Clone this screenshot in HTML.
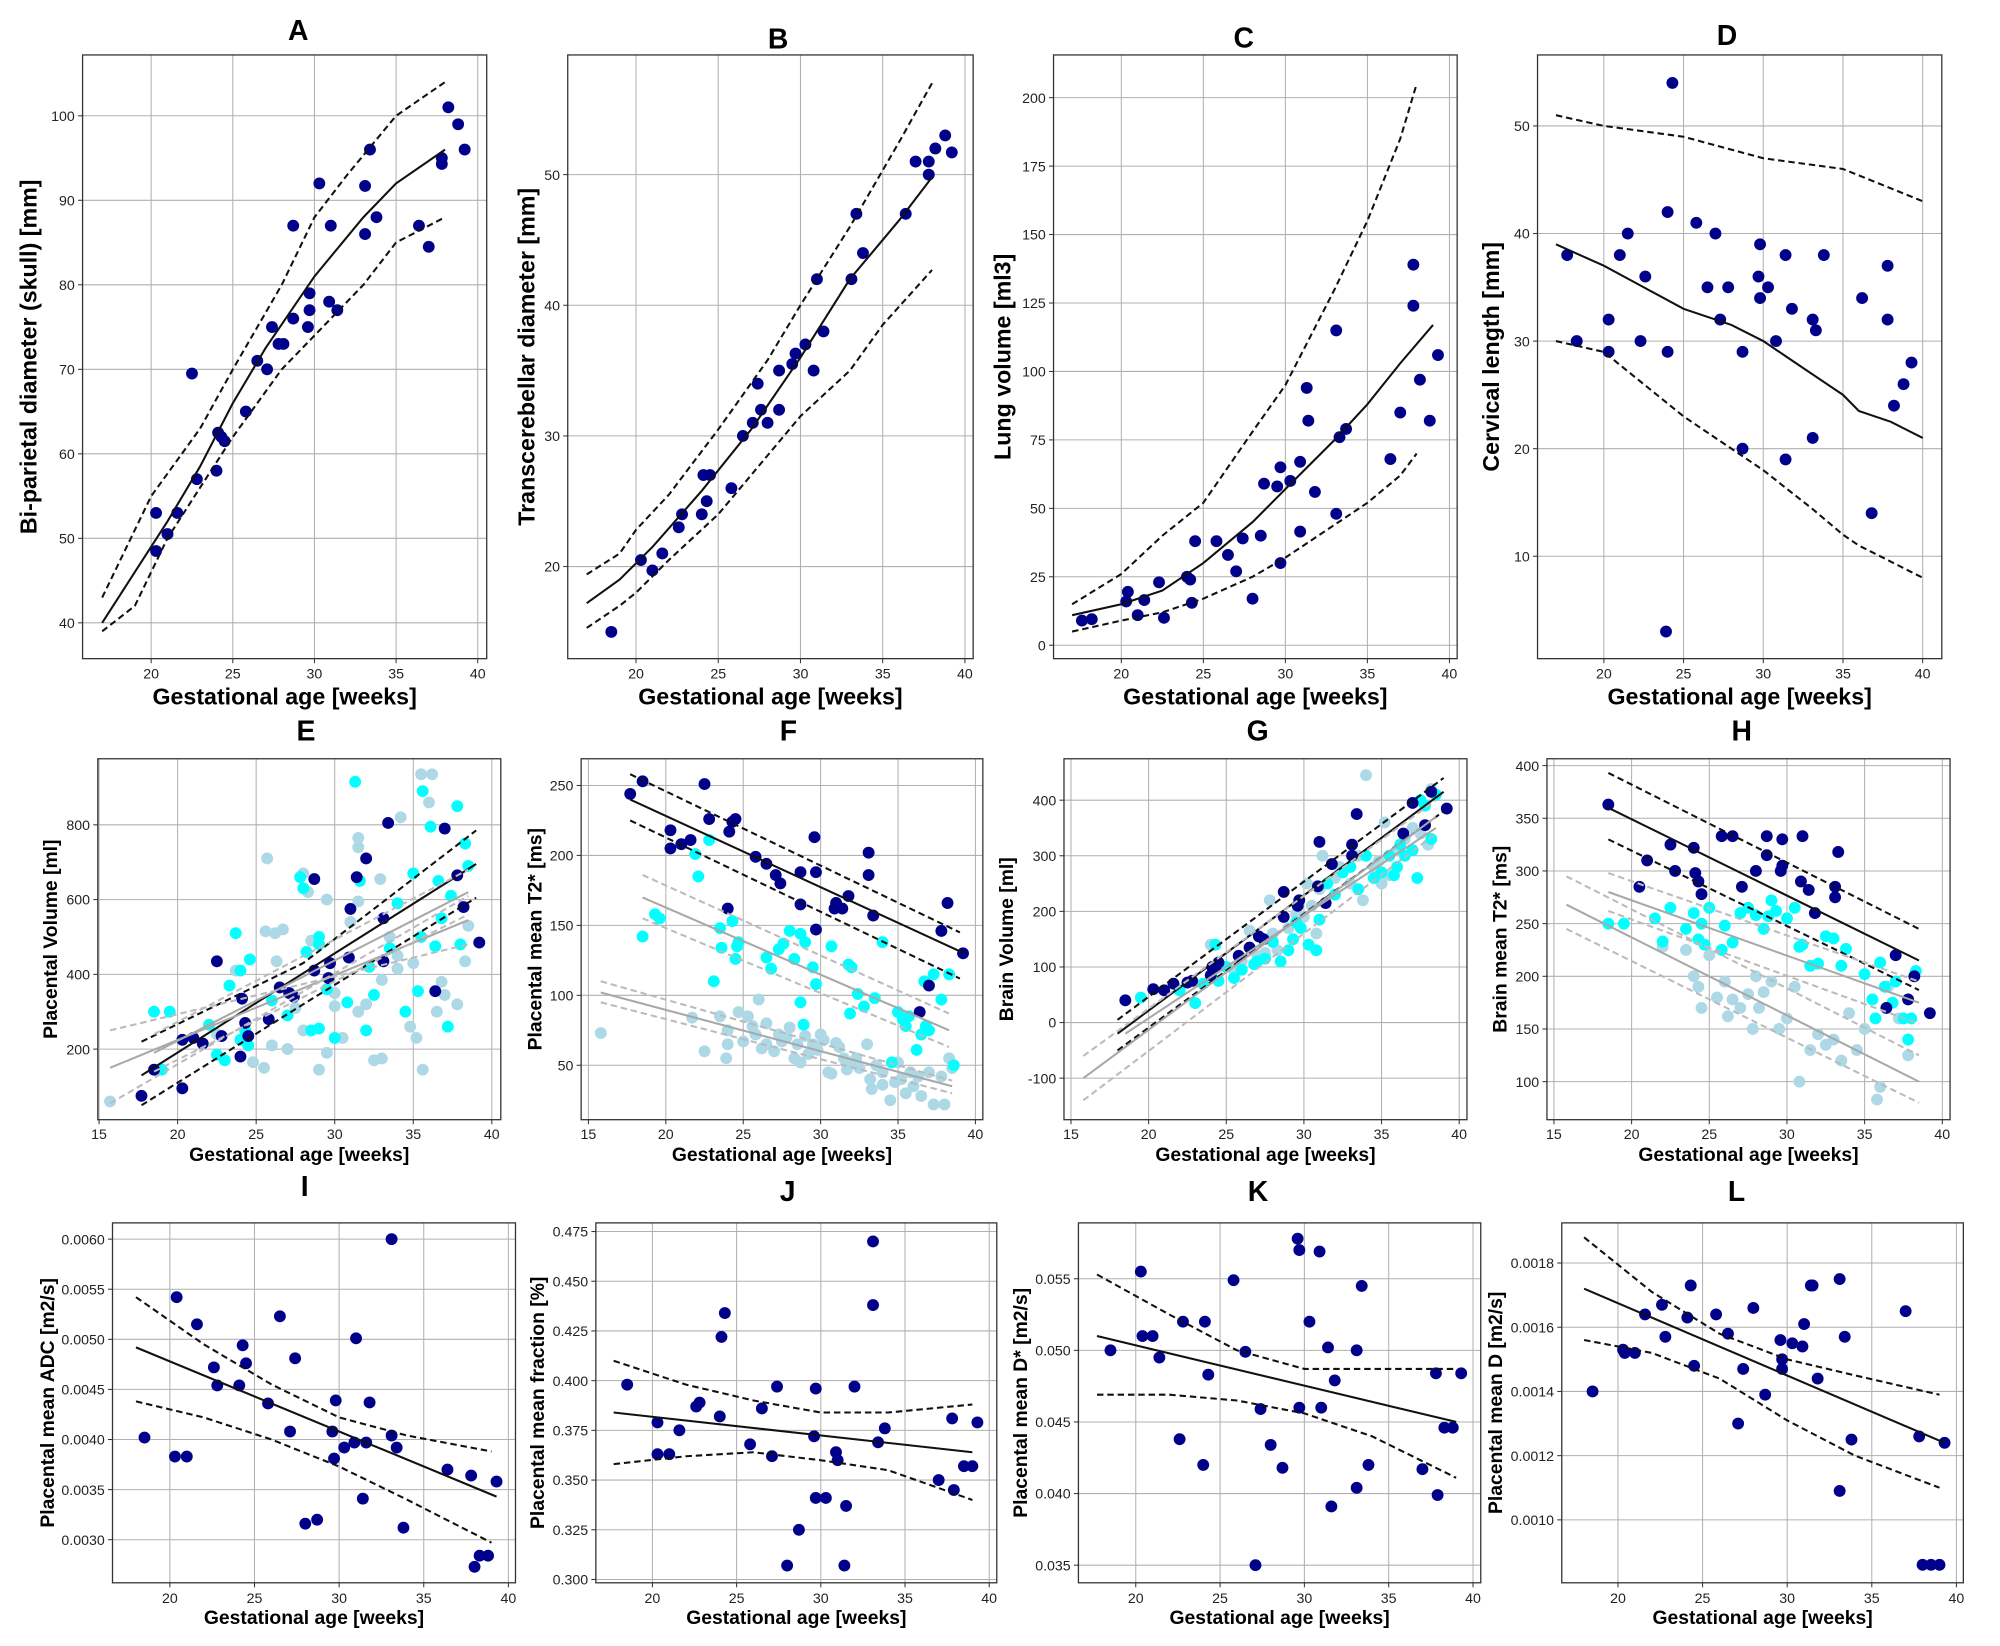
<!DOCTYPE html>
<html><head><meta charset="utf-8"><style>
html,body{margin:0;padding:0;background:#fff}
svg{display:block}
text{font-family:"Liberation Sans",sans-serif}
</style></head><body>
<svg id="fig" width="2000" height="1646" viewBox="0 0 1550 1276" xmlns="http://www.w3.org/2000/svg"></svg>
<script>
// ---------- DATA ----------
const aPoints=[[20.3,53],[20.3,48.5],[21,50.5],[21.6,53],[22.5,69.5],[22.8,57],[24,58],[24.1,62.5],[24.3,62],[24.5,61.5],[25.8,65],[26.5,71],[27.1,70],[27.4,75],[27.8,73],[28.1,73],[28.7,76],[28.7,87],[29.6,75],[29.7,77],[29.7,79],[30.3,92],[30.9,78],[31,87],[31.4,77],[33.1,86],[33.1,91.7],[33.4,96],[33.8,88],[36.4,87],[37,84.5],[37.8,95],[37.8,94.3],[38.2,101],[38.8,99],[39.2,96]];
const aMean=[[17,40],[19,46],[21,52],[23,58.5],[25,66],[27,72.5],[30,81],[33,88],[35,92],[38,96]];
const aUpper=[[17,43],[20,55],[23,63],[25,70],[28,80],[30,88],[32,93],[35,100],[38,104]];
const aLower=[[17,39],[19,42],[21,50],[23,56],[25,62],[28,70],[30,74],[33,80],[35,85],[38,88]];

const bPoints=[[18.5,15],[20.3,20.5],[21,19.7],[21.6,21],[22.6,23],[22.8,24],[24,24],[24.1,27],[24.3,25],[24.5,27],[25.8,26],[26.5,30],[27.1,31],[27.4,34],[27.6,32],[28,31],[28.7,35],[28.7,32],[29.5,35.5],[29.7,36.3],[30.3,37],[30.8,35],[31,42],[31.4,38],[33.1,42],[33.4,47],[33.8,44],[36.4,47],[37,51],[37.8,51],[37.8,50],[38.2,52],[38.8,53],[39.2,51.7]];
const bMean=[[17,17.2],[19,19],[21,21.5],[24,25.8],[27,30.5],[30,36],[33,42],[36,46.5],[38,49.8]];
const bUpper=[[17,19.4],[19,21],[20,22.8],[22,25.5],[25,30.5],[28,35.8],[30,40],[33,46],[36,52.5],[38,57]];
const bLower=[[17,15.3],[19,17],[20,18],[22,20.5],[25,24],[28,28.5],[30,31.5],[33,35],[35,38.5],[38,42.7]];

const cPoints=[[17.6,9],[18.2,9.5],[20.3,16],[20.4,19.5],[21,11],[21.4,16.5],[22.3,23],[22.6,10],[24,25],[24.2,24],[24.3,15.5],[24.5,38],[25.8,38],[26.5,33],[27,27],[27.4,39],[28,17],[28.5,40],[28.7,59],[29.5,58],[29.7,65],[29.7,30],[30.3,60],[30.9,67],[30.9,41.5],[31.3,94],[31.4,82],[31.8,56],[33.1,115],[33.1,48],[33.3,76],[33.7,79],[36.4,68],[37,85],[37.8,139],[37.8,124],[38.2,97],[38.8,82],[39.3,106]];
const cMean=[[17,11],[20,15],[22.5,20],[25,30],[28,45],[30,57],[33,75],[35,88],[37,103],[39,117]];
const cUpper=[[17,15],[20,26],[22.5,40],[25,52],[28,78],[30,95],[33,130],[35,155],[37,185],[38,205]];
const cLower=[[17,5],[20,9],[22.5,12],[25,17],[28,25],[30,32],[33,44],[35,52],[37,62],[38,70]];

const dPoints=[[17.7,38],[18.3,30],[20.3,32],[20.3,29],[21,38],[21.5,40],[22.3,30],[22.6,36],[24,29],[24,42],[24.3,54],[23.9,3],[25.8,41],[26.5,35],[27,40],[27.3,32],[27.8,35],[28.7,29],[28.7,20],[29.7,36],[29.8,39],[29.8,34],[30.3,35],[30.8,30],[31.4,38],[31.4,19],[31.8,33],[33.1,32],[33.1,21],[33.3,31],[33.8,38],[36.2,34],[36.8,14],[37.8,37],[37.8,32],[38.2,24],[38.8,26],[39.3,28]];
const dMean=[[17,39],[20,37],[22.5,35],[25,33],[28,31.5],[30,30],[32,28],[35,25],[36,23.5],[38,22.5],[40,21]];
const dUpper=[[17,51],[20,50],[25,49],[30,47],[35,46],[40,43]];
const dLower=[[17,30],[20,29],[22.5,26],[25,23],[28,20],[30,18],[33,14.5],[35,12],[36,11],[38,9.5],[40,8]];

const eNavy=[[17.7,75],[18.5,145],[20.3,95],[20.3,225],[21,230],[21.6,215],[22.5,435],[22.8,235],[24,180],[24.1,335],[24.3,270],[24.5,235],[25.8,280],[26.5,365],[27.1,350],[27.4,340],[28.7,410],[28.7,655],[29.6,390],[29.7,430],[30.9,445],[31,575],[31.4,660],[32,710],[33.1,435],[33.1,550],[33.4,805],[36.4,355],[37,790],[37.8,665],[38.2,580],[39.2,485]];
const eCyan=[[18.5,300],[19,145],[19.5,300],[22,265],[22.5,185],[23,170],[23.3,370],[23.7,510],[24,225],[24.3,250],[24.5,210],[24.6,440],[26,330],[27,290],[27.8,660],[28,630],[28.5,250],[29,255],[29,480],[29.5,360],[30,230],[30.8,325],[31.3,915],[31.6,650],[32,250],[32.2,420],[32.5,345],[33.5,470],[34,590],[34.5,300],[35,670],[35.3,355],[35.5,500],[35.6,890],[36.1,795],[36.4,475],[36.8,550],[37.2,260],[37.4,610],[37.8,850],[38,480],[38.3,750],[38.5,690],[36.6,650],[29,500],[28.2,460],[24,410]];
const eLight=[[15.7,60],[23.7,410],[25.6,515],[25.7,710],[26.2,510],[26.3,435],[26.7,520],[27.5,310],[28,670],[28.3,620],[28.5,490],[29,145],[29.5,600],[30,315],[30.5,230],[31,540],[31.5,765],[31.5,740],[31.5,595],[32.5,170],[32.9,655],[33,175],[33,385],[34,415],[34.2,820],[35,430],[35.2,230],[35.5,935],[35.6,145],[36,860],[36.2,935],[36.5,300],[36.8,380],[37,345],[37.8,320],[38.3,435],[38.5,530],[27,200],[25.5,150],[26,210],[24.8,165],[30,350],[32,320],[34,450],[33.5,500],[29.5,190],[28,250],[31.5,300],[22.5,240],[34.8,260]];
const eFits=[
 {c:"#111",d:0,p:[[17.7,130],[39,695]]},{c:"#111",d:1,p:[[17.7,220],[28,430],[39,785]]},{c:"#111",d:1,p:[[17.7,50],[28,320],[39,605]]},
 {c:"#a8a8a8",d:0,p:[[15.7,150],[38.5,545]]},{c:"#a8a8a8",d:0,p:[[18.5,190],[38.5,620]]},
 {c:"#bbb",d:1,p:[[15.7,250],[38.5,480]]},{c:"#bbb",d:1,p:[[15.7,55],[38.5,610]]},
 {c:"#bbb",d:1,p:[[18.5,240],[38.5,680]]},{c:"#bbb",d:1,p:[[18.5,140],[38.5,560]]}];

const fNavy=[[17.7,244],[18.5,253],[20.3,218],[20.3,205],[21,208],[21.6,211],[22.5,251],[22.8,226],[24,162],[24.1,217],[24.3,224],[24.5,226],[25.8,199],[26.5,194],[27.1,186],[27.4,180],[28.7,188],[28.7,165],[29.6,213],[29.7,188],[29.7,147],[30.9,162],[31,166],[31.4,162],[31.8,171],[33.1,186],[33.1,202],[33.4,157],[36.4,88],[37,107],[37.8,146],[38.2,166],[39.2,130]];
const fCyan=[[18.5,142],[19.3,158],[19.6,155],[21.9,201],[22.1,185],[22.8,211],[23.1,110],[23.5,148],[23.6,134],[24.3,153],[24.5,126],[24.6,135],[24.7,138],[26.5,127],[26.8,119],[27.3,133],[27.6,137],[28,146],[28.3,126],[28.7,95],[28.7,144],[28.9,79],[29,138],[29.5,120],[29.7,108],[30.7,135],[31.8,122],[32,120],[32.4,101],[31.9,87],[32.8,92],[33.5,98],[34,138],[34.6,52],[35,88],[35.5,78],[35.7,85],[36.2,61],[36.5,72],[36.7,110],[37,75],[37.3,115],[37.8,97],[38.3,115],[38.6,50],[35.3,83],[36.8,78]];
const fLight=[[15.8,73],[21.7,84],[22.5,60],[23.9,55],[23.5,85],[24,75],[24,65],[24.7,88],[25,67],[25.3,85],[25.6,78],[25.8,72],[26,97],[26.2,62],[26.5,80],[26.5,65],[27,60],[27.3,72],[27.5,67],[27.8,70],[28,77],[28.3,55],[28.5,65],[28.7,52],[29,71],[29.2,58],[29.5,65],[29.8,61],[30,72],[30.2,68],[30.5,45],[30.7,44],[31,66],[31.2,63],[31.5,55],[31.7,47],[32,52],[32.3,55],[32.5,48],[33,65],[33.2,40],[33.3,33],[33.6,50],[34,45],[34,36],[34.5,25],[34.8,38],[35,52],[35.2,40],[35.5,30],[35.8,45],[36,35],[36.3,42],[36.5,28],[37,45],[37.3,22],[37.8,42],[38,22],[38.3,55],[38.5,48]];
const fFits=[
 {c:"#111",d:0,p:[[17.7,240],[39.3,130]]},{c:"#111",d:1,p:[[17.7,258],[39,145]]},{c:"#111",d:1,p:[[17.7,225],[39,112]]},
 {c:"#a8a8a8",d:0,p:[[18.5,170],[38.3,75]]},{c:"#bbb",d:1,p:[[18.5,186],[38.3,87]]},{c:"#bbb",d:1,p:[[18.5,155],[38.3,63]]},
 {c:"#a8a8a8",d:0,p:[[15.8,102],[38.5,35]]},{c:"#bbb",d:1,p:[[15.8,110],[38.5,39]]},{c:"#bbb",d:1,p:[[15.8,95],[38.5,30]]}];

const gNavy=[[18.5,40],[20.3,60],[21,58],[21.6,70],[22.5,72],[22.8,75],[24,85],[24.1,100],[24.3,98],[24.5,108],[25.8,120],[26.5,135],[27.1,155],[27.4,150],[28.7,190],[28.7,235],[29.6,210],[29.7,220],[30.9,245],[31,325],[31.4,215],[31.8,285],[33.1,300],[33.1,320],[33.4,375],[36.4,340],[37,395],[37.8,355],[38.2,415],[39.2,385]];
const gCyan=[[19.5,45],[22,58],[23,35],[23.5,70],[24.3,140],[24.5,75],[25,100],[25.5,80],[26,95],[26.8,105],[27.5,115],[28,145],[28.5,110],[29,130],[29.3,150],[29.8,170],[30.3,140],[30.8,130],[31,185],[31.5,250],[32,230],[32.5,270],[33,280],[33.5,240],[34,300],[34.5,260],[35,270],[35.5,300],[36,280],[36.5,300],[37,310],[37.5,400],[37.8,390],[38.2,330],[38.5,410],[37.3,260],[35.8,265],[36.2,320],[29.5,180],[27,110]];
const gLight=[[24,140],[25.5,95],[26,110],[27,120],[27.5,125],[28,160],[28.3,130],[29,170],[29.5,195],[30,190],[30.2,250],[30.5,210],[31,240],[31.2,300],[32,260],[32.3,280],[33,250],[33.5,300],[33.8,220],[34,445],[34.5,280],[35,250],[35.5,265],[36,310],[36.5,330],[37,350],[37.5,340],[38,320],[38.2,420],[27.8,220],[26.5,165],[30.8,160],[34.8,290],[35.2,360]];
const gFits=[
 {c:"#111",d:0,p:[[18,-20],[39,415]]},{c:"#111",d:1,p:[[18,5],[39,440]]},{c:"#111",d:1,p:[[18,-50],[39,380]]},
 {c:"#a8a8a8",d:0,p:[[15.8,-100],[38.5,370]]},{c:"#a8a8a8",d:0,p:[[18.5,-20],[38.5,350]]},
 {c:"#bbb",d:1,p:[[15.8,-60],[38.5,400]]},{c:"#bbb",d:1,p:[[15.8,-140],[38.5,340]]}];

const hNavy=[[18.5,363],[20.5,285],[21,310],[22.5,325],[22.8,300],[24,322],[24.1,298],[24.3,290],[24.5,278],[25.8,333],[26.5,333],[27.1,285],[28,300],[28.7,315],[28.7,333],[29.6,300],[29.7,305],[29.7,330],[30.9,290],[31,333],[31.4,282],[31.8,260],[33.1,275],[33.1,285],[33.3,318],[36.4,170],[37,220],[37.8,178],[38.2,200],[39.2,165]];
const hCyan=[[18.5,250],[19.5,250],[21.5,255],[22,233],[22.5,265],[23.5,245],[24,260],[24.3,235],[24.5,250],[24.7,230],[25,265],[25.8,225],[26,248],[26.5,232],[27,260],[27.5,265],[28,258],[28.5,245],[28.8,257],[29,272],[29.3,262],[30,255],[30.5,265],[30.8,228],[31,230],[31.5,210],[32,212],[32.5,238],[33,236],[33.5,210],[33.8,226],[35,202],[35.5,178],[36,213],[36.3,190],[36.8,175],[37,195],[37.5,160],[37.8,140],[38,160],[38.3,205],[35.7,160]];
const hLight=[[22,228],[23.5,225],[24,200],[24.3,190],[24.5,170],[25,220],[25.5,180],[26,195],[26.5,178],[27,170],[27.5,183],[27.8,150],[28,200],[28.5,185],[29,195],[29.5,150],[30,160],[30.5,190],[30.8,100],[31.5,130],[32,145],[32.5,135],[33,140],[33.5,120],[34,165],[35,150],[35.8,83],[36,95],[36.5,190],[37.2,160],[37.8,125],[26.2,162],[28.2,170],[34.5,130]];
const hFits=[
 {c:"#111",d:0,p:[[18.5,360],[38.5,215]]},{c:"#111",d:1,p:[[18.5,393],[38.5,245]]},{c:"#111",d:1,p:[[18.5,330],[38.5,187]]},
 {c:"#a8a8a8",d:0,p:[[15.8,268],[38.5,100]]},{c:"#bbb",d:1,p:[[15.8,295],[38.5,125]]},{c:"#bbb",d:1,p:[[15.8,245],[38.5,80]]},
 {c:"#a8a8a8",d:0,p:[[18.5,280],[38.5,175]]},{c:"#bbb",d:1,p:[[18.5,298],[38.5,195]]},{c:"#bbb",d:1,p:[[18.5,262],[38.5,155]]}];

const iPoints=[[18.5,4.02],[20.3,3.83],[20.4,5.42],[21,3.83],[21.6,5.15],[22.6,4.72],[22.8,4.54],[24.1,4.54],[24.3,4.94],[24.5,4.76],[25.8,4.36],[26.5,5.23],[27.1,4.08],[27.4,4.81],[28,3.16],[28.7,3.2],[29.6,4.08],[29.7,3.81],[29.8,4.39],[30.3,3.92],[30.9,3.97],[31,5.01],[31.4,3.41],[31.6,3.97],[31.8,4.37],[33.1,4.04],[33.1,6.0],[33.4,3.92],[33.8,3.12],[36.4,3.7],[37.8,3.64],[38,2.73],[38.3,2.84],[38.8,2.84],[39.3,3.58]];
const iMean=[[18,4.92],[39.3,3.43]];
const iUpper=[[18,5.42],[22,4.95],[26,4.55],[30,4.22],[34,4.04],[39,3.88]];
const iLower=[[18,4.38],[22,4.22],[26,4.0],[30,3.73],[34,3.4],[39,2.97]];

const jPoints=[[18.5,0.398],[20.3,0.379],[20.3,0.363],[21,0.363],[21.6,0.375],[22.6,0.387],[22.8,0.389],[24,0.382],[24.1,0.422],[24.3,0.434],[25.8,0.368],[26.5,0.386],[27.1,0.362],[27.4,0.397],[28,0.307],[28.7,0.325],[29.6,0.372],[29.7,0.396],[29.7,0.341],[30.3,0.341],[30.9,0.364],[31,0.36],[31.4,0.307],[31.5,0.337],[32,0.397],[33.1,0.47],[33.1,0.438],[33.4,0.369],[33.8,0.376],[37,0.35],[37.8,0.381],[37.9,0.345],[38.5,0.357],[39,0.357],[39.3,0.379]];
const jMean=[[17.7,0.384],[39,0.364]];
const jUpper=[[17.7,0.41],[22,0.398],[26,0.39],[30,0.384],[34,0.384],[39,0.388]];
const jLower=[[17.7,0.358],[22,0.362],[26,0.364],[30,0.36],[34,0.355],[39,0.34]];

const kPoints=[[18.5,0.05],[20.3,0.0555],[20.4,0.051],[21,0.051],[21.4,0.0495],[22.6,0.0438],[22.8,0.052],[24,0.042],[24.1,0.052],[24.3,0.0483],[25.8,0.0549],[26.5,0.0499],[27.1,0.035],[27.4,0.0459],[28,0.0434],[28.7,0.0418],[29.6,0.0578],[29.7,0.057],[29.7,0.046],[30.3,0.052],[30.9,0.0569],[31,0.046],[31.4,0.0502],[31.6,0.0391],[31.8,0.0479],[33.1,0.05],[33.1,0.0404],[33.4,0.0545],[33.8,0.042],[37,0.0417],[37.8,0.0484],[37.9,0.0399],[38.3,0.0446],[38.8,0.0446],[39.3,0.0484]];
const kMean=[[17.7,0.051],[39,0.045]];
const kUpper=[[17.7,0.0553],[22,0.0525],[26,0.05],[30,0.0487],[34,0.0487],[39,0.0487]];
const kLower=[[17.7,0.0469],[22,0.0469],[26,0.0465],[30,0.0456],[34,0.044],[39,0.0411]];

const lPoints=[[18.5,1.4],[20.3,1.53],[20.4,1.52],[21,1.52],[21.6,1.64],[22.6,1.67],[22.8,1.57],[24.1,1.63],[24.3,1.73],[24.5,1.48],[25.8,1.64],[26.5,1.58],[27.1,1.3],[27.4,1.47],[28,1.66],[28.7,1.39],[29.6,1.56],[29.7,1.5],[29.7,1.47],[30.3,1.55],[30.9,1.54],[31,1.61],[31.4,1.73],[31.5,1.73],[31.8,1.44],[33.1,1.75],[33.1,1.09],[33.4,1.57],[33.8,1.25],[37,1.65],[37.8,1.26],[38,0.86],[38.5,0.86],[39,0.86],[39.3,1.24]];
const lMean=[[18,1.72],[39.3,1.24]];
const lUpper=[[18,1.88],[22,1.71],[26,1.58],[30,1.5],[34,1.45],[39,1.39]];
const lLower=[[18,1.56],[22,1.52],[26,1.44],[30,1.31],[34,1.2],[39,1.1]];

const xTicks20=[20,25,30,35,40];
const xTicks15=[15,20,25,30,35,40];

// ---------- RENDER ----------
const NS="http://www.w3.org/2000/svg";
const svg=document.getElementById('fig');
function mk(tag,attrs,parent){const e=document.createElementNS(NS,tag);for(const k in attrs)e.setAttribute(k,attrs[k]);(parent||svg).appendChild(e);return e;}
const NAVY="#00008b",CYAN="#00ffff",LIGHT="#add8e6";
function simpleFits(m,u,l){return [{c:"#111",d:0,p:m},{c:"#111",d:1,p:u},{c:"#111",d:1,p:l}];}

const R1={top:42.6,bot:510.6,tly:522,xly:540,lf:18};
const R2={top:588.2,bot:868,tly:879,xly:894,lf:15};
const R3={top:948,bot:1227,tly:1238.5,xly:1253,lf:15};

const panels=[
 {id:"a",t:"A",r:R1,bx:[63.8,377.1],xl:[15.8,40.55],yl:[35.76,107.2],xt:xTicks20,yt:[40,50,60,70,80,90,100],dec:0,yscale:1,
  ylab:"Bi-parietal diameter (skull) [mm]",ylx:22,tx:231,ty:23,series:[[aPoints,NAVY]],fits:simpleFits(aMean,aUpper,aLower)},
 {id:"b",t:"B",r:R1,bx:[439.9,754.2],xl:[15.85,40.5],yl:[12.95,59.16],xt:xTicks20,yt:[20,30,40,50],dec:0,yscale:1,
  ylab:"Transcerebellar diameter [mm]",ylx:408,tx:603,ty:29.5,series:[[bPoints,NAVY]],fits:simpleFits(bMean,bUpper,bLower)},
 {id:"c",t:"C",r:R1,bx:[816.5,1129.4],xl:[15.87,40.47],yl:[-4.9,215.6],xt:xTicks20,yt:[0,25,50,75,100,125,150,175,200],dec:0,yscale:1,
  ylab:"Lung volume [ml3]",ylx:777,tx:964,ty:28.8,series:[[cPoints,NAVY]],fits:simpleFits(cMean,cUpper,cLower)},
 {id:"d",t:"D",r:R1,bx:[1191.7,1505.1],xl:[15.84,41.2],yl:[0.48,56.6],xt:xTicks20,yt:[10,20,30,40,50],dec:0,yscale:1,
  ylab:"Cervical length [mm]",ylx:1155.6,tx:1338.6,ty:27,series:[[dPoints,NAVY]],fits:simpleFits(dMean,dUpper,dLower)},
 {id:"e",t:"E",r:R2,bx:[75.6,388],xl:[14.92,40.57],yl:[11.2,976.7],xt:xTicks15,yt:[200,400,600,800],dec:0,yscale:1,
  ylab:"Placental Volume [ml]",ylx:39.5,tx:237,ty:566,series:[[eLight,LIGHT],[eCyan,CYAN],[eNavy,NAVY]],fits:eFits},
 {id:"f",t:"F",r:R2,bx:[450.3,761.7],xl:[14.53,40.48],yl:[11.1,269.1],xt:xTicks15,yt:[50,100,150,200,250],dec:0,yscale:1,
  ylab:"Placental mean T2* [ms]",ylx:415,tx:611,ty:566,series:[[fLight,LIGHT],[fCyan,CYAN],[fNavy,NAVY]],fits:fFits},
 {id:"g",t:"G",r:R2,bx:[824.6,1137],xl:[14.55,40.5],yl:[-174.7,474.5],xt:xTicks15,yt:[-100,0,100,200,300,400],dec:0,yscale:1,
  ylab:"Brain Volume [ml]",ylx:780.4,tx:974.7,ty:566,series:[[gLight,LIGHT],[gCyan,CYAN],[gNavy,NAVY]],fits:gFits},
 {id:"h",t:"H",r:R2,bx:[1199,1511.5],xl:[14.55,40.5],yl:[63.9,406.5],xt:xTicks15,yt:[100,150,200,250,300,350,400],dec:0,yscale:1,
  ylab:"Brain mean T2* [ms]",ylx:1163,tx:1350,ty:566,series:[[hLight,LIGHT],[hCyan,CYAN],[hNavy,NAVY]],fits:hFits},
 {id:"i",t:"I",r:R3,bx:[87,399.4],xl:[16.61,40.42],yl:[2.57,6.162],xt:xTicks20,yt:[3.0,3.5,4.0,4.5,5.0,5.5,6.0],dec:4,yscale:0.001,
  ylab:"Placental mean ADC [m2/s]",ylx:37,tx:236,ty:919,series:[[iPoints,NAVY]],fits:simpleFits(iMean,iUpper,iLower)},
 {id:"j",t:"J",r:R3,bx:[461.7,772.5],xl:[16.64,40.45],yl:[0.29833,0.47935],xt:xTicks20,yt:[0.3,0.325,0.35,0.375,0.4,0.425,0.45,0.475],dec:3,yscale:1,
  ylab:"Placental mean fraction [%]",ylx:416.7,tx:610.4,ty:923,series:[[jPoints,NAVY]],fits:simpleFits(jMean,jUpper,jLower)},
 {id:"k",t:"K",r:R3,bx:[835.8,1147.7],xl:[16.6,40.46],yl:[0.03377,0.0589],xt:xTicks20,yt:[0.035,0.04,0.045,0.05,0.055],dec:3,yscale:1,
  ylab:"Placental mean D* [m2/s]",ylx:791.3,tx:975,ty:923,series:[[kPoints,NAVY]],fits:simpleFits(kMean,kUpper,kLower)},
 {id:"l",t:"L",r:R3,bx:[1210.5,1521.8],xl:[16.68,40.41],yl:[0.804,1.925],xt:xTicks20,yt:[1.0,1.2,1.4,1.6,1.8],dec:4,yscale:0.001,
  ylab:"Placental mean D [m2/s]",ylx:1159.6,tx:1346,ty:923,series:[[lPoints,NAVY]],fits:simpleFits(lMean,lUpper,lLower)}
];

panels.forEach(P=>{
  const x0=P.bx[0],x1=P.bx[1],y0=P.r.top,y1=P.r.bot;
  const sx=v=>x0+(v-P.xl[0])/(P.xl[1]-P.xl[0])*(x1-x0);
  const sy=v=>y1-(v-P.yl[0])/(P.yl[1]-P.yl[0])*(y1-y0);
  const g=mk('g',{});
  
  
  const cp=mk('clipPath',{id:'cp'+P.id},g);
  mk('rect',{x:x0,y:y0,width:x1-x0,height:y1-y0},cp);
  const grid=mk('g',{},g);
  
  
  P.xt.forEach(t=>{const X=sx(t);if(X<x0-0.5||X>x1+0.5)return;
    mk('line',{x1:X,x2:X,y1:y0,y2:y1,stroke:"#b0b0b0","stroke-width":0.8},grid);
    const tl=mk('text',{x:X,y:P.r.tly+4,"text-anchor":"middle","font-size":11,fill:"#222"},g);
    tl.textContent=t;
    
    
    mk('line',{x1:X,x2:X,y1:y1,y2:y1+3.5,stroke:"#333","stroke-width":0.8},g);
  });
  P.yt.forEach(t=>{const Y=sy(t);
    mk('line',{x1:x0,x2:x1,y1:Y,y2:Y,stroke:"#b0b0b0","stroke-width":0.8},grid);
    const tl=mk('text',{x:x0-6,y:Y+4,"text-anchor":"end","font-size":11,fill:"#222"},g);
    tl.textContent=(P.dec?(t*P.yscale).toFixed(P.dec):String(t));
    
    
    mk('line',{x1:x0-3.5,x2:x0,y1:Y,y2:Y,stroke:"#333","stroke-width":0.8},g);
  });
  const plot=mk('g',{"clip-path":"url(#cp"+P.id+")"},g);
  P.series.forEach(([pts,col])=>{
    pts.forEach(([x,y])=>{
      const c=mk('circle',{cx:sx(x),cy:sy(y),r:4.6,fill:col},plot);
      
      
    });
  });
  P.fits.forEach(f=>{
    const d=f.p.map((q,i)=>(i?'L':'M')+sx(q[0]).toFixed(1)+','+sy(q[1]).toFixed(1)).join(' ');
    const ln=mk('path',{d:d,fill:"none",stroke:f.c,"stroke-width":1.6,"stroke-dasharray":f.d?"5,3":"none"},plot);
    
    
  });
  const fr=mk('rect',{x:x0,y:y0,width:x1-x0,height:y1-y0,fill:"none",stroke:"#333","stroke-width":1},g);
  
  
  const tt=mk('text',{x:P.tx,y:P.ty+8,"text-anchor":"middle","font-size":22,"font-weight":"bold",fill:"#000"},g);
  tt.textContent=P.t;
  
  
  const xl=mk('text',{x:(x0+x1)/2,y:P.r.xly+6,"text-anchor":"middle","font-size":P.r.lf,"font-weight":"bold",fill:"#000"},g);
  xl.textContent="Gestational age [weeks]";
  
  
  const cy=(y0+y1)/2;
  const yl=mk('text',{x:P.ylx,y:cy,"text-anchor":"middle","font-size":P.r.lf,"font-weight":"bold",fill:"#000",transform:"rotate(-90 "+P.ylx+" "+cy+")","dominant-baseline":"central"},g);
  yl.textContent=P.ylab;
  
  
});
</script>
</body></html>
